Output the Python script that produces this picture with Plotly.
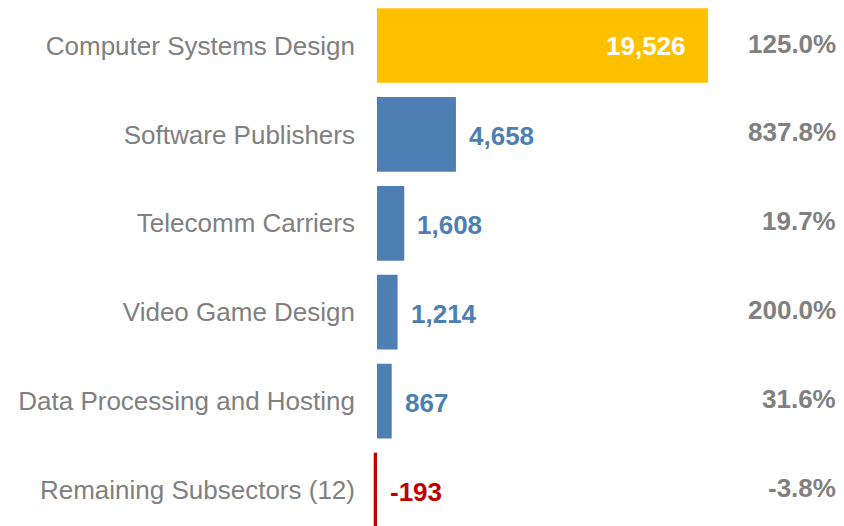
import plotly.graph_objects as go

categories = ["Computer Systems Design", "Software Publishers", "Telecomm Carriers",
              "Video Game Design", "Data Processing and Hosting", "Remaining Subsectors (12)"]
values = [19526, 4658, 1608, 1214, 867, -193]
pct_labels = ["125.0%", "837.8%", "19.7%", "200.0%", "31.6%", "-3.8%"]

GOLD = "#FFC000"
BLUE = "#4E7FB2"
RED = "#C00000"
GRAY = "#808080"
FONT = "Liberation Sans, Arial, sans-serif"

max_v = max(values)
colors = [GOLD if v == max_v else (RED if v < 0 else BLUE) for v in values]

fig = go.Figure()
fig.add_trace(go.Bar(
    x=values, y=categories, orientation="h",
    marker=dict(color=colors, line=dict(width=0)),
    width=0.84, hoverinfo="skip",
))

annotations = []
for cat, v, c, p in zip(categories, values, colors, pct_labels):
    if v == max_v:
        annotations.append(dict(x=v, y=cat, xref="x", yref="y", text=f"{v:,}",
                                xanchor="right", xshift=-20, showarrow=False,
                                font=dict(family=FONT, size=26, color="white", weight="bold")))
    else:
        annotations.append(dict(x=max(v, 0), y=cat, xref="x", yref="y", text=f"{v:,}",
                                xanchor="left", xshift=11, yshift=-2, showarrow=False,
                                font=dict(family=FONT, size=26, color=c, weight="bold")))
    annotations.append(dict(x=1, y=cat, xref="paper", yref="y", text=p,
                            xanchor="right", xshift=-6, yshift=2, showarrow=False,
                            font=dict(family=FONT, size=26, color=GRAY, weight="bold")))

fig.update_layout(
    width=836, height=518,
    margin=dict(l=352, r=0, t=0, b=0),
    plot_bgcolor="white", paper_bgcolor="white",
    showlegend=False,
    annotations=annotations,
    xaxis=dict(range=[-1003, 27549], showgrid=False, zeroline=False,
               showticklabels=False, showline=False),
    yaxis=dict(range=[5.405, -0.422], showgrid=False, zeroline=False, showline=False,
               ticks="", ticklabelstandoff=4,
               tickfont=dict(family=FONT, size=26, color=GRAY)),
)

fig.write_html("out.html")
